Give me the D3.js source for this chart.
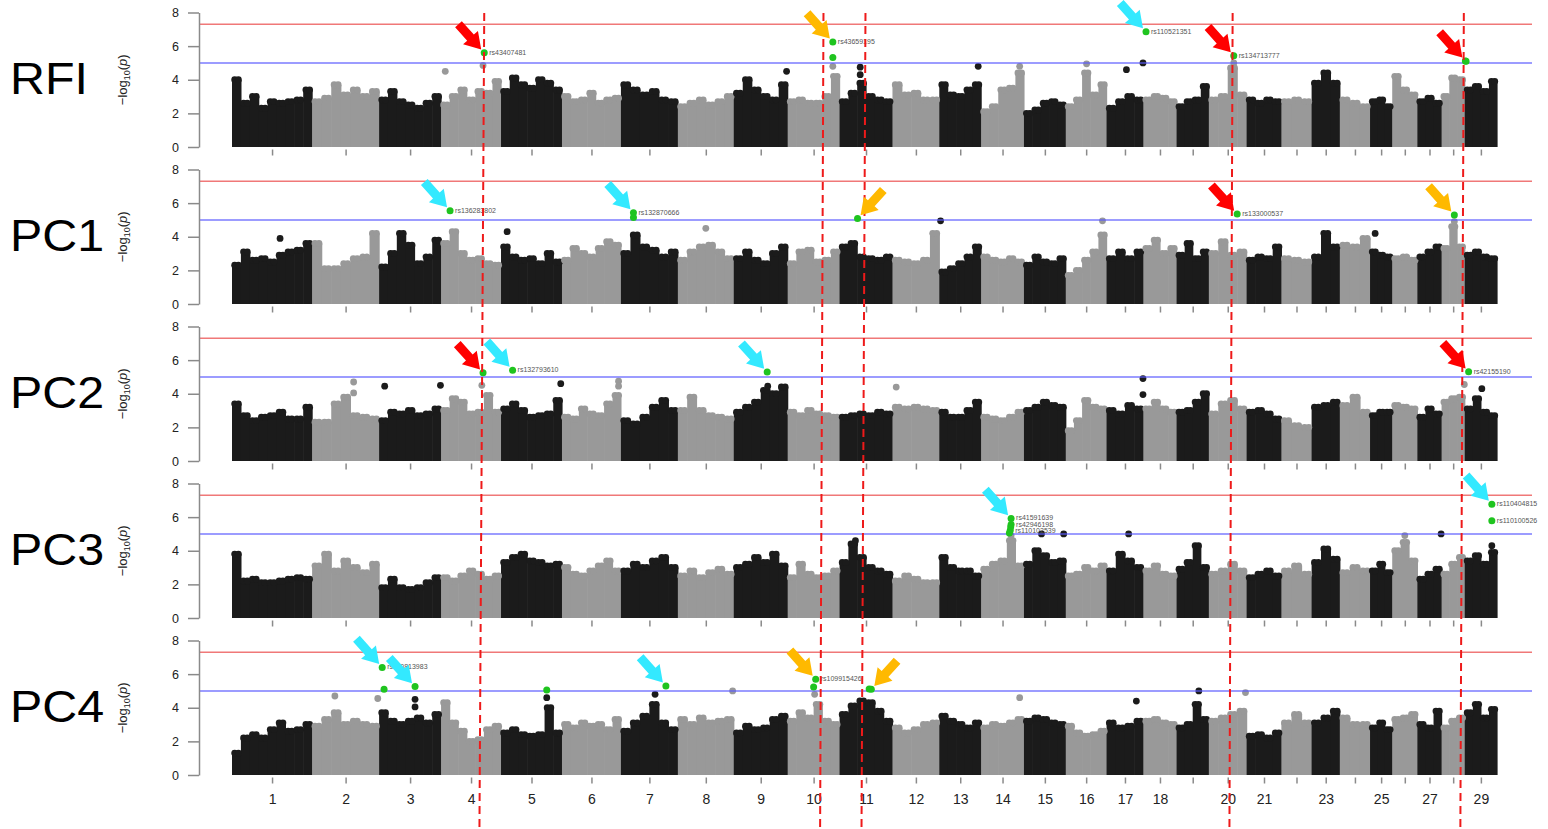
<html>
<script src='https://d3js.org/d3.v7.min.js'></script>
<style>
body {margin:0; background:#fff; font-family:"Liberation Sans", Arial, sans-serif;}
.yax text {font-size:12.5px; fill:#222;}
.yax path, .yax line {stroke:#8a8a8a; stroke-width:1.5;}
.xax text {font-size:14px; fill:#222;}
.xax line {stroke:#8a8a8a; stroke-width:1.5;}
</style>
<body>
<svg width=1548 height=829></svg>
<script>

// chromosome lengths (Mb, as plotted) and tick labels
var chrLen = [159,133,123,119,121,117,113,111,107,103,105,93,83,85,83,81,73,66,64,75,69,60,56,60,44,50,48,46,64];
var tickLabels = ["1","2","3","4","5","6","7","8","9","10","11","12","13","14","15","16","17","18","","20","21","","23","","25","","27","","29"];
var traits = ["RFI","PC1","PC2","PC3","PC4"];
var sigLine = 7.3, sugLine = 5;

// top of the SNP cloud, per chromosome, in -log10(p), read left to right
var rfiTops = [
[4.2,2.8,3.2,2.5,2.9,2.8,2.9,3.0,3.6],[2.9,3.1,3.9,3.3,3.6,3.2,3.5],[3.0,3.5,2.9,2.7,2.5,2.8,3.2],
[2.7,3.2,3.6,3.0,3.5,3.4,4.1],[3.5,4.3,3.9,3.7,4.2,4.0,3.6],[3.2,2.9,3.0,3.4,2.8,3.0,3.1],
[3.9,3.6,3.3,3.5,3.0,2.9],[2.6,2.8,3.0,2.7,2.9,3.2],[3.4,4.2,3.6,3.2,3.0,3.9],
[2.9,3.0,2.8,2.8,3.2,4.4],[2.9,3.4,4.0,3.2,3.0,2.9],[3.9,3.3,3.4,3.0,3.0],
[3.9,3.3,3.2,3.6,3.9],[2.3,2.6,3.6,3.7,4.6],[2.2,2.4,2.8,2.9,2.7],[2.6,3.0,4.6,3.3,3.9],
[2.5,2.9,3.2,3.0],[3.0,3.2,3.1,2.9],[2.6,2.9,3.0,3.8],[3.0,3.2,4.9,3.3],[3.0,2.8,3.0,2.9],
[2.9,3.0,2.9],[4.0,4.6,4.0],[3.0,2.8,2.6],[2.9,3.0,2.6],[4.4,3.6,3.3],[2.9,3.1,2.8],[3.2,4.3,4.2],
[3.6,3.8,3.5,4.1]];
var pc1Tops = [
[2.5,3.3,2.8,2.9,2.7,3.1,3.3,3.4,3.8],[3.8,2.3,2.3,2.6,2.9,3.0,4.4],[2.4,3.2,4.4,3.7,2.6,3.0,4.0],
[3.8,4.5,3.2,2.8,2.9,2.6,2.5],[3.6,3.0,2.8,2.9,2.6,3.2,2.7],[2.8,3.5,3.2,3.0,3.5,3.9,3.7],
[3.2,4.3,3.6,3.4,3.0,3.3],[2.8,3.3,3.6,3.7,3.3,2.9],[2.9,3.3,2.8,2.6,3.2,3.6],
[2.6,3.3,3.4,2.7,2.8,3.3],[3.6,3.8,3.0,2.9,2.8,3.0],[2.8,2.7,2.6,2.8,4.4],
[2.1,2.3,2.6,3.0,3.6],[3.0,2.8,2.7,2.9,2.7],[2.5,3.0,2.7,2.6,2.9],[1.9,2.2,2.8,3.3,4.3],
[2.9,3.3,2.9,3.3],[3.5,4.0,3.2,3.5],[3.1,3.8,2.9,3.3],[3.2,3.9,3.1,3.3],[2.8,3.0,2.9,3.6],
[2.9,2.8,2.7],[3.0,4.4,3.6],[3.7,3.6,4.1],[3.3,3.1,3.0],[2.9,3.0,2.8],[3.0,3.3,3.6],[3.5,4.8,3.6],
[3.1,3.3,3.0,2.9]];
var pc2Tops = [
[3.6,2.9,2.6,2.8,2.9,3.1,2.7,2.7,3.4],[2.5,2.5,3.6,4.0,2.9,2.8,2.7],[2.6,3.1,3.0,3.2,2.9,3.0,3.3],
[3.2,3.9,3.7,3.0,3.1,4.1,3.1],[3.3,3.6,3.2,2.8,2.9,3.0,3.8],[2.8,2.7,3.3,3.0,2.9,3.6,4.1],
[2.6,2.4,2.8,3.4,3.8,3.2],[3.2,4.0,3.2,2.9,2.8,2.7],[3.1,3.4,3.7,4.4,4.2,4.6],
[3.1,2.9,3.2,3.0,2.9,2.8],[2.8,2.9,3.0,2.9,3.1,3.0],[3.4,3.3,3.4,3.3,3.2],
[3.1,2.8,2.8,3.2,3.7],[2.8,2.7,2.6,2.8,3.1],[3.2,3.4,3.7,3.5,3.4],[2.0,2.6,3.8,3.4,3.3],
[3.2,3.0,3.5,3.3],[3.3,3.7,3.3,3.1],[3.1,3.2,3.7,4.2],[3.0,3.6,3.8,3.3],[3.1,3.2,3.0,2.7],
[2.6,2.3,2.2],[3.4,3.5,3.7],[3.5,4.0,3.1],[2.9,3.1,3.1],[3.5,3.4,3.3],[2.8,3.3,3.0],[3.7,3.9,4.0],
[3.3,3.9,3.1,2.9]];
var pc3Tops = [
[4.0,2.4,2.5,2.3,2.3,2.4,2.5,2.6,2.5],[3.3,4.0,3.0,3.6,3.2,2.9,3.4],[2.0,2.5,2.0,1.9,2.0,2.3,2.6],
[2.6,2.4,2.7,3.0,2.8,2.5,2.7],[3.5,3.8,4.0,3.6,3.5,3.3,3.4],[3.2,2.8,2.7,3.0,3.3,3.6,3.0],
[3.0,3.4,3.2,3.6,3.8,3.2],[2.7,3.0,2.6,2.9,3.1,2.8],[3.2,3.4,3.8,3.5,4.0,3.3],
[2.6,3.4,2.8,2.6,2.7,3.0],[3.5,4.6,3.8,3.2,3.0,2.8],[2.4,2.7,2.5,2.3,2.3],
[3.8,3.2,3.0,3.0,2.7],[3.1,3.4,3.6,4.8,3.3],[3.4,4.2,3.9,3.5,3.6],[2.7,2.8,3.2,3.0,3.3],
[3.0,4.0,3.6,3.2],[3.0,3.3,2.8,2.7],[3.1,3.5,4.5,3.2],[2.8,3.0,3.4,3.0],[2.6,2.8,3.0,2.7],
[3.0,3.3,2.8],[3.5,4.3,3.7],[2.9,3.2,3.0],[3.0,3.4,2.9],[4.2,4.7,3.6],[2.5,2.8,3.1],[2.8,3.4,3.8],
[3.6,3.9,3.4,4.1]];
var pc4Tops = [
[1.5,2.4,2.6,2.4,2.9,3.3,2.8,2.9,3.2],[3.1,3.5,3.9,3.2,3.4,3.2,3.1],[3.9,3.4,3.2,3.4,3.6,3.3,3.8],
[4.5,3.3,2.8,2.2,2.3,2.9,3.1],[2.7,2.9,2.6,2.5,2.6,4.2,2.7],[3.2,3.0,3.3,3.1,3.2,2.9,3.5],
[2.8,3.3,3.7,4.4,3.3,2.9],[3.5,3.2,3.6,3.3,3.4,3.5],[2.7,3.1,2.9,3.0,3.5,3.7],
[3.4,3.9,3.6,4.4,3.4,3.2],[3.8,4.3,4.6,4.5,4.0,3.4],[3.0,2.7,2.9,3.2,3.3],
[3.7,3.4,3.2,3.0,3.3],[3.0,3.2,3.1,3.3,3.5],[3.4,3.6,3.5,3.3,3.2],[3.1,2.7,2.5,2.6,2.8],
[3.3,3.0,3.1,3.4],[3.4,3.5,3.3,3.2],[3.0,3.2,4.4,3.5],[3.4,3.6,3.8,4.0],[2.5,2.6,2.4,2.7],
[3.3,3.8,3.3],[3.3,3.6,4.0],[3.6,3.2,3.2],[3.0,3.3,2.9],[3.5,3.6,3.8],[3.2,3.0,4.0],[3.0,3.4,3.6],
[3.9,4.4,3.6,4.1]];

// isolated SNPs above the cloud: [chromosome, position within chromosome (0-1), -log10(p)]
var rfiDots = [[4,0.07,4.5],[4,0.7,4.85],[9,0.98,4.5],[10,0.87,4.8],[11,0.39,4.75],[11,0.39,4.3],
  [13,0.93,4.8],[14,0.9,4.8],[16,0.51,4.95],[17,0.54,4.6],[17,0.99,5.0],[20,0.66,5.0]];
var pc1Dots = [[1,0.6,3.9],[5,0.1,4.3],[8,0.5,4.5],[13,0.03,4.95],[16,0.9,4.95],[25,0.23,4.2],[28,0.55,4.9]];
var pc2Dots = [[2,0.62,4.7],[2,0.62,4.05],[3,0.09,4.45],[3,0.99,4.5],[4,0.68,4.5],[5,0.98,4.6],
  [6,0.96,4.75],[6,0.96,4.45],[9,0.63,4.45],[12,0.08,4.4],[17,0.99,4.9],[17,0.99,3.95],[28,0.98,4.55],[29,0.53,4.3]];
var pc3Dots = [[11,0.3,4.6],[14,0.7,4.9],[15,0.42,5.0],[15,0.95,5.0],[17,0.6,5.0],[26,0.5,4.9],[27,0.98,5.0],[29,0.84,4.3]];
var pc4Dots = [[2,0.34,4.7],[2,0.98,4.55],[3,0.58,4.5],[3,0.58,4.05],[5,0.75,4.6],[7,0.6,4.8],[8,0.98,5.0],
  [10,0.52,4.8],[14,0.9,4.6],[17,0.81,4.4],[19,0.69,5.0],[20,0.97,4.9]];

// highlighted SNPs: [trait, chromosome, position, -log10(p), label, arrow group, arrow side]
var hits = [
  ["RFI",4,0.72,5.6,"rs43407481","red","L"],
  ["RFI",10,0.87,6.25,"rs43659195","orange","L"],
  ["RFI",10,0.87,5.32,"","",""],
  ["RFI",18,0.08,6.86,"rs110521351","cyan","L"],
  ["RFI",20,0.66,5.43,"rs134713777","red","L"],
  ["RFI",29,0.02,5.12,"","red","L"],
  ["RFI",29,0.04,5.1,"","",""],
  ["PC1",4,0.15,5.55,"rs136283802","cyan","L"],
  ["PC1",7,0.22,5.43,"rs132870666","cyan","L"],
  ["PC1",7,0.22,5.14,"","",""],
  ["PC1",11,0.34,5.08,"","orange","R"],
  ["PC1",20,0.75,5.35,"rs133000537","red","L"],
  ["PC1",28,0.55,5.3,"","orange","L"],
  ["PC2",4,0.7,5.25,"","red","L"],
  ["PC2",5,0.19,5.4,"rs132793610","cyan","L"],
  ["PC2",9,0.62,5.29,"","cyan","L"],
  ["PC2",29,0.12,5.31,"rs42155190","red","L"],
  ["PC3",14,0.7,5.92,"rs41591639","cyan","L"],
  ["PC3",14,0.7,5.56,"rs42946198","",""],
  ["PC3",14,0.69,5.42,"","",""],
  ["PC3",14,0.68,5.2,"rs110102539","",""],
  ["PC3",14,0.66,5.05,"","",""],
  ["PC3",29,0.84,6.77,"rs110404815","cyan","L"],
  ["PC3",29,0.84,5.79,"rs110100526","",""],
  ["PC4",3,0.05,6.4,"rs110813983","cyan","L"],
  ["PC4",3,0.08,5.1,"","",""],
  ["PC4",3,0.58,5.26,"","cyan","L"],
  ["PC4",5,0.75,5.06,"","",""],
  ["PC4",7,0.79,5.3,"","cyan","L"],
  ["PC4",10,0.54,5.7,"rs109915426","orange","L"],
  ["PC4",10,0.5,5.23,"","",""],
  ["PC4",11,0.56,5.12,"","",""],
  ["PC4",11,0.6,5.1,"","orange","R"]
];

// dashed guide lines: [chromosome, position at top, position at bottom]
var guideLines = [[4,0.72,0.64],[10,0.69,0.625],[11,0.49,0.415],[20,0.63,0.545],[28,0.96,0.81]];

var tops = {RFI: rfiTops, PC1: pc1Tops, PC2: pc2Tops, PC3: pc3Tops, PC4: pc4Tops};
var dots = {RFI: rfiDots, PC1: pc1Dots, PC2: pc2Dots, PC3: pc3Dots, PC4: pc4Dots};
var arrowColor = {red: "#ff0000", cyan: "#33e9ff", orange: "#ffb900"};

var svg = d3.select("svg");
var offsets = [];
var run = 0;
chrLen.forEach(function(l){ offsets.push(run); run += l; });
var total = run;
var mids = chrLen.map(function(l, i){ return offsets[i] + l/2; });

var xscale = d3.scaleLinear().domain([0, total]).range([232, 1497]);
function gpos(chr, f) { return offsets[chr-1] + f*chrLen[chr-1]; }
function chrColor(chr) { return (chr % 2 == 1) ? "#1b1b1b" : "#999999"; }
function yscaleFor(p) { return d3.scaleLinear().domain([0, 8]).range([147 + 157*p, 12.5 + 157*p]); }

traits.forEach(function(t, p) {
  var yscale = yscaleFor(p);
  var g = svg.append("g");

  // columns of the SNP cloud
  var cols = [];
  tops[t].forEach(function(vals, c) {
    vals.forEach(function(v, j) {
      cols.push({chr: c+1, a: gpos(c+1, j/vals.length), b: gpos(c+1, (j+1)/vals.length), v: v});
    });
  });
  g.selectAll("rect.col").data(cols).enter().append("rect")
    .attr("x", function(d){ return xscale(d.a); })
    .attr("width", function(d){ return xscale(d.b) - xscale(d.a) + 0.6; })
    .attr("y", function(d){ return yscale(d.v) + 3.5; })
    .attr("height", function(d){ return yscale(0) - yscale(d.v) - 3.5; })
    .attr("fill", function(d){ return chrColor(d.chr); });
  // round dot caps: two per column so the top edge looks like stacked points
  var caps = [];
  cols.forEach(function(d){
    var w = xscale(d.b) - xscale(d.a);
    if (w > 7) {
      caps.push({chr: d.chr, x: xscale(d.a) + w*0.3, v: d.v});
      caps.push({chr: d.chr, x: xscale(d.a) + w*0.72, v: d.v});
    } else {
      caps.push({chr: d.chr, x: xscale(d.a) + w/2, v: d.v});
    }
  });
  g.selectAll("circle.cap").data(caps).enter().append("circle")
    .attr("cx", function(d){ return d.x; })
    .attr("cy", function(d){ return yscale(d.v) + 3.3; })
    .attr("r", 3.4)
    .attr("fill", function(d){ return chrColor(d.chr); });

  g.selectAll("circle.dot").data(dots[t]).enter().append("circle")
    .attr("cx", function(d){ return xscale(gpos(d[0], d[1])); })
    .attr("cy", function(d){ return yscale(d[2]); })
    .attr("r", 3.4)
    .attr("fill", function(d){ return chrColor(d[0]); });

  // threshold lines
  g.append("line").attr("x1", 199).attr("x2", 1532)
    .attr("y1", yscale(sigLine)).attr("y2", yscale(sigLine))
    .attr("stroke", "#f07878").attr("stroke-width", 1.6);
  g.append("line").attr("x1", 199).attr("x2", 1532)
    .attr("y1", yscale(sugLine)).attr("y2", yscale(sugLine))
    .attr("stroke", "rgba(90,90,255,0.6)").attr("stroke-width", 2);

  // axes
  g.append("g").attr("class", "yax").attr("transform", "translate(199,0)")
    .call(d3.axisLeft(yscale).tickValues([0,2,4,6,8]).tickSize(11).tickSizeOuter(0).tickPadding(9));
  g.append("g").attr("class", "xax").attr("transform", "translate(0," + (yscale(0) + 2.5) + ")")
    .call(d3.axisBottom(xscale).tickValues(mids).tickSize(6).tickPadding(11)
      .tickFormat(function(d, i){ return p == 4 ? tickLabels[i] : ""; }))
    .call(function(a){ a.select(".domain").remove(); });

  // labels
  g.append("text").attr("transform", "translate(10," + (94 + 157*p) + ") scale(1.1,1)")
    .attr("font-size", 44).attr("fill", "#000").text(t);
  var yl = g.append("text").attr("text-anchor", "middle").attr("font-size", 13).attr("fill", "#222")
    .attr("transform", "translate(127," + yscale(4) + ") rotate(-90)");
  yl.append("tspan").text("\u2212log");
  yl.append("tspan").attr("font-size", 9).attr("dy", 3).text("10");
  yl.append("tspan").attr("dy", -3).text("(");
  yl.append("tspan").attr("font-style", "italic").text("p");
  yl.append("tspan").text(")");
});

// highlighted SNPs
var hitG = svg.append("g");
hits.forEach(function(h) {
  var ys = yscaleFor(traits.indexOf(h[0]));
  var cx = xscale(gpos(h[1], h[2])), cy = ys(h[3]);
  hitG.append("circle").attr("cx", cx).attr("cy", cy).attr("r", 3.5).attr("fill", "#1fc41f");
  if (h[4] != "") {
    hitG.append("text").attr("x", cx + 5).attr("y", cy + 2)
      .attr("font-size", 7).attr("fill", "#555").text(h[4]);
  }
});

// dashed guide lines
guideLines.forEach(function(gl) {
  svg.append("line")
    .attr("x1", xscale(gpos(gl[0], gl[1]))).attr("y1", 13)
    .attr("x2", xscale(gpos(gl[0], gl[2]))).attr("y2", 829)
    .attr("stroke", "#ee1a1a").attr("stroke-width", 2).attr("stroke-dasharray", "8,5");
});

// arrows
var arrowPath = "M0,0 L-16,-10 L-16,-4.5 L-34,-4.5 L-34,4.5 L-16,4.5 L-16,10 Z";
hits.filter(function(h){ return h[5] != ""; }).forEach(function(h) {
  var ys = yscaleFor(traits.indexOf(h[0]));
  var cx = xscale(gpos(h[1], h[2])), cy = ys(h[3]);
  var ang = h[6] == "L" ? 48 : 132;
  var rad = ang * Math.PI / 180;
  var tx = cx - 4.5*Math.cos(rad), ty = cy - 4.5*Math.sin(rad);
  svg.append("path").attr("d", arrowPath)
    .attr("transform", "translate(" + tx + "," + ty + ") rotate(" + ang + ")")
    .attr("fill", arrowColor[h[5]]);
});

</script>
</body>
</html>
